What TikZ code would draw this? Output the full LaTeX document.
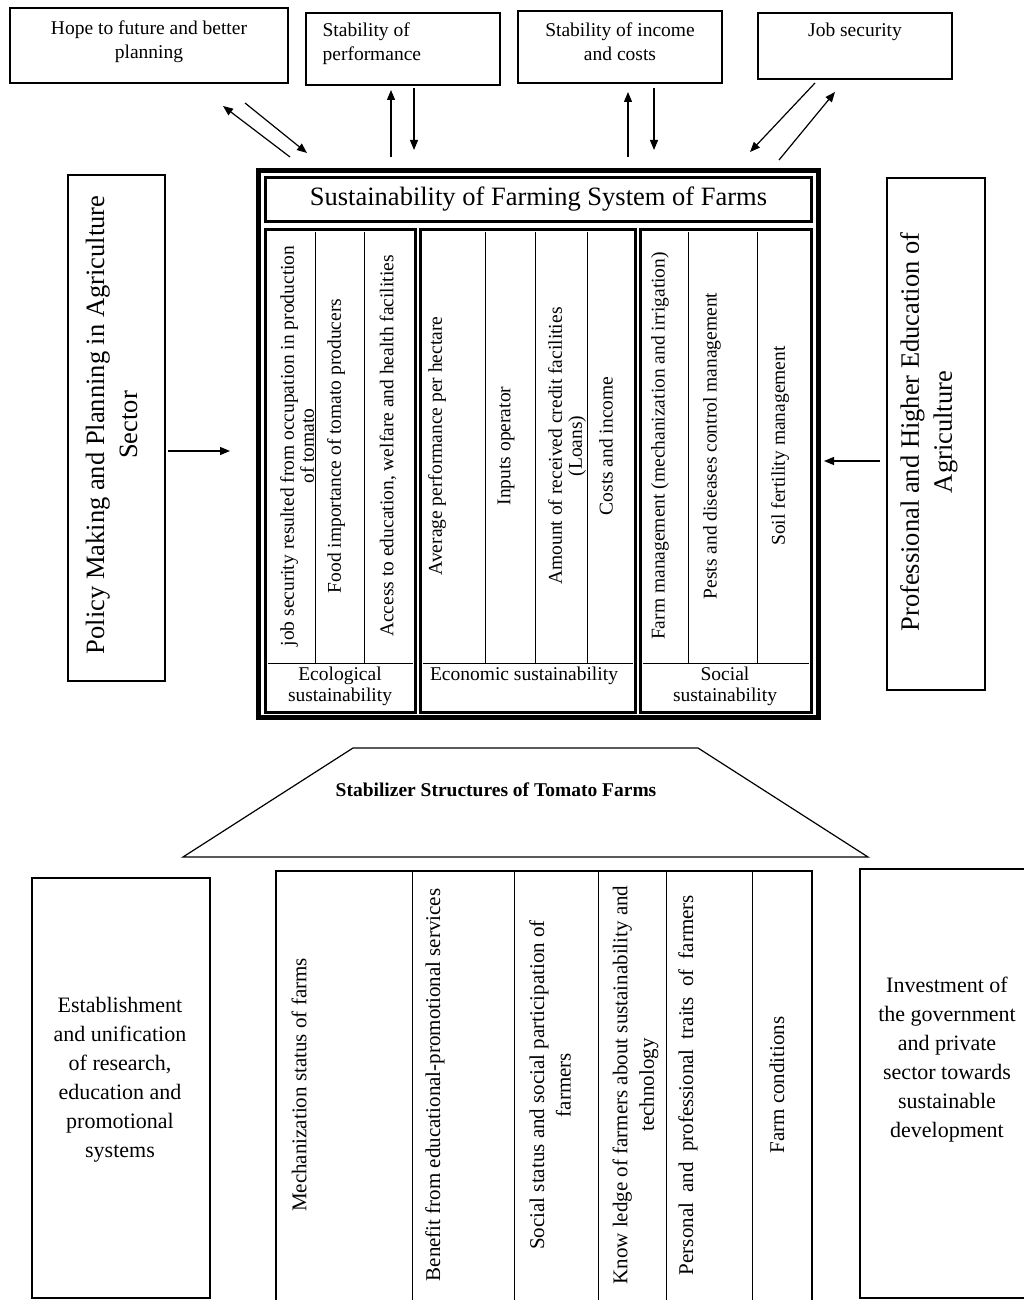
\documentclass[tikz,border=0pt]{standalone}
\usepackage{fontspec}
\setmainfont{Liberation Serif}
\usetikzlibrary{arrows.meta,positioning,fit}
\tikzset{
  box/.style={
    draw=black,
    line width=1.2pt,
    inner sep=0pt
  },
  heavy/.style={draw=black, line width=2.6pt, inner sep=0pt},
  divider/.style={line width=1pt},
  toptext/.style={font=\fontsize{19.5}{24}\selectfont, align=center, inner sep=0pt},
  coltext/.style={rotate=90, font=\fontsize{19.5}{20}\selectfont, align=center, inner sep=0pt},
  paneltext/.style={font=\fontsize{19.5}{21}\selectfont, align=center, inner sep=0pt},
  basetext/.style={rotate=90, font=\fontsize{21}{26.5}\selectfont, align=center, inner sep=0pt},
  sidetext/.style={rotate=90, font=\fontsize{26.5}{33}\selectfont, align=center, inner sep=0pt},
  plaintext/.style={font=\fontsize{22}{29}\selectfont, align=center, inner sep=0pt},
  link/.style={line width=1.2pt, -{Triangle[length=10pt,width=8pt]}}
}
\newcommand{\area}[6][box]{%
  \node[#1, fit={(#3,#4) (#5,#6)}] (#2) {};
}

\begin{document}
\begin{tikzpicture}[x=1pt, y=-1pt]
  \useasboundingbox (0,0) rectangle (1024,1300);
  % top boxes
  \area{hope}{10}{8}{288}{83}
  \node[toptext, below=13pt of hope.north] (hopetxt) {Hope to future and better\\planning};
  \area{perf}{306}{13}{500}{85}
  \node[toptext, align=left, below right=10pt and 17pt of perf.north west] (perftxt) {Stability of\\performance};
  \area{income}{518}{11}{722}{83}
  \node[toptext, below=12pt of income.north] (incometxt) {Stability of income\\and costs};
  \area{jobsec}{758}{13}{952}{79}
  \node[toptext, below=10pt of jobsec.north] (jobsectxt) {Job security};

  % arrow ends
  \coordinate (hope-a) at (290,157);  \coordinate (hope-b) at (223,106);
  \coordinate (hope-c) at (245,103);  \coordinate (hope-d) at (307,153);
  \coordinate (perf-a) at (391,157);  \coordinate (perf-b) at (391,90);
  \coordinate (perf-c) at (414,88);   \coordinate (perf-d) at (414,150);
  \coordinate (inc-a) at (628,157);   \coordinate (inc-b) at (628,92);
  \coordinate (inc-c) at (654,88);    \coordinate (inc-d) at (654,150);
  \coordinate (job-a) at (815,83);    \coordinate (job-b) at (750,152);
  \coordinate (job-c) at (779,160);   \coordinate (job-d) at (835,92);
  \foreach \s/\t in {hope-a/hope-b,hope-c/hope-d,perf-a/perf-b,perf-c/perf-d,
                     inc-a/inc-b,inc-c/inc-d,job-a/job-b,job-c/job-d}
    \draw[link] (\s) -- (\t);

  % main frame
  \area[heavy, line width=4pt]{frame}{258}{170}{819}{718}
  \draw[line width=0.8pt] ([shift={(4.5pt,-4.5pt)}]frame.north west)
    rectangle ([shift={(-4.5pt,4.5pt)}]frame.south east);
  \area[heavy]{title}{265}{177}{812}{222}
  \area[heavy]{ecol}{265}{229}{416}{713}
  \area[heavy]{econ}{420}{229}{636}{713}
  \area[heavy]{socl}{640}{229}{812}{713}
  \foreach \p in {title,ecol,econ,socl}
    \draw[line width=0.6pt] ([shift={(3pt,-3pt)}]\p.north west)
      rectangle ([shift={(-3pt,3pt)}]\p.south east);
  \node[font=\fontsize{26.5}{30}\selectfont, inner sep=0pt] (titletxt) at (title.center)
    {Sustainability of Farming System of Farms};
  \foreach \xa/\xb in {268/413,423/633,643/809}
    \draw[divider] (\xa,663) -- (\xb,663);
  \foreach \x in {315,364,485,535,587,688,757}
    \draw[divider] (\x,232) -- (\x,663);

  % columns of the three panels
  \node[coltext] (ecol1) at (297,446) {job security resulted from occupation in production\\of tomato};
  \node[coltext] (ecol2) at (336,446) {Food importance of tomato producers};
  \node[coltext] (ecol3) at (388,446) {Access to education, welfare and health facilities};
  \node[coltext] (econ1) at (437,446) {Average performance per hectare};
  \node[coltext] (econ2) at (506,446) {Inputs operator};
  \node[coltext] (econ3) at (567,446) {Amount of received credit facilities\\(Loans)};
  \node[coltext] (econ4) at (606,446) {Costs and income};
  \node[coltext] (socl1) at (660,446) {Farm management (mechanization and irrigation)};
  \node[coltext] (socl2) at (712,446) {Pests and diseases control management};
  \node[coltext] (socl3) at (780,446) {Soil fertility management};
  \node[paneltext] (ecollbl) at (340,686.5) {Ecological\\sustainability};
  \node[paneltext] (econlbl) at (524,676) {Economic sustainability};
  \node[paneltext] (socllbl) at (725,686.5) {Social\\sustainability};

  % side boxes
  \area{policy}{68}{175}{165}{681}
  \node[sidetext] (policytxt) at (111.5,425) {Policy Making and Planning in Agriculture\\Sector};
  \area{educ}{887}{178}{985}{690}
  \node[sidetext] (eductxt) at (929,432) {Professional and Higher Education of\\Agriculture};
  \coordinate (policy-a) at (168,451);  \coordinate (policy-b) at (230,451);
  \coordinate (educ-a) at (880,461);    \coordinate (educ-b) at (824,461);
  \draw[link] (policy-a) -- (policy-b);
  \draw[link] (educ-a) -- (educ-b);

  % stabilizer structures
  \draw[line width=1.2pt] (353,748) -- (698,748) -- (868,857) -- (183,857) -- cycle;
  \node[font=\bfseries\fontsize{19.5}{21}\selectfont, inner sep=0pt] (stabtxt) at (496,790)
    {Stabilizer Structures of Tomato Farms};

  \area{estab}{32}{878}{210}{1298}
  \node[plaintext] (estabtxt) at (120,1080) {Establishment\\and unification\\of research,\\education and\\promotional\\systems};
  \area{invest}{860}{869}{1030}{1298}
  \node[plaintext] (investtxt) at (947,1060) {Investment of\\the government\\and private\\sector towards\\sustainable\\development};

  \area{stab}{276}{871}{812}{1306}
  \foreach \x in {412,514,598,666,752}
    \draw[divider] (\x,871) -- (\x,1306);
  \node[basetext] (stab1) at (299,1085) {Mechanization status of farms};
  \node[basetext] (stab2) at (435,1085) {Benefit from educational-promotional services};
  \node[basetext] (stab3) at (550,1085) {Social status and social participation of\\farmers};
  \node[basetext] (stab4) at (635.5,1085) {Know ledge of farmers about sustainability and\\technology};
  \node[basetext] (stab5) at (688,1085) {\makebox[380pt][s]{Personal and professional traits of farmers}};
  \node[basetext] (stab6) at (777,1085) {Farm conditions};
\end{tikzpicture}
\end{document}
